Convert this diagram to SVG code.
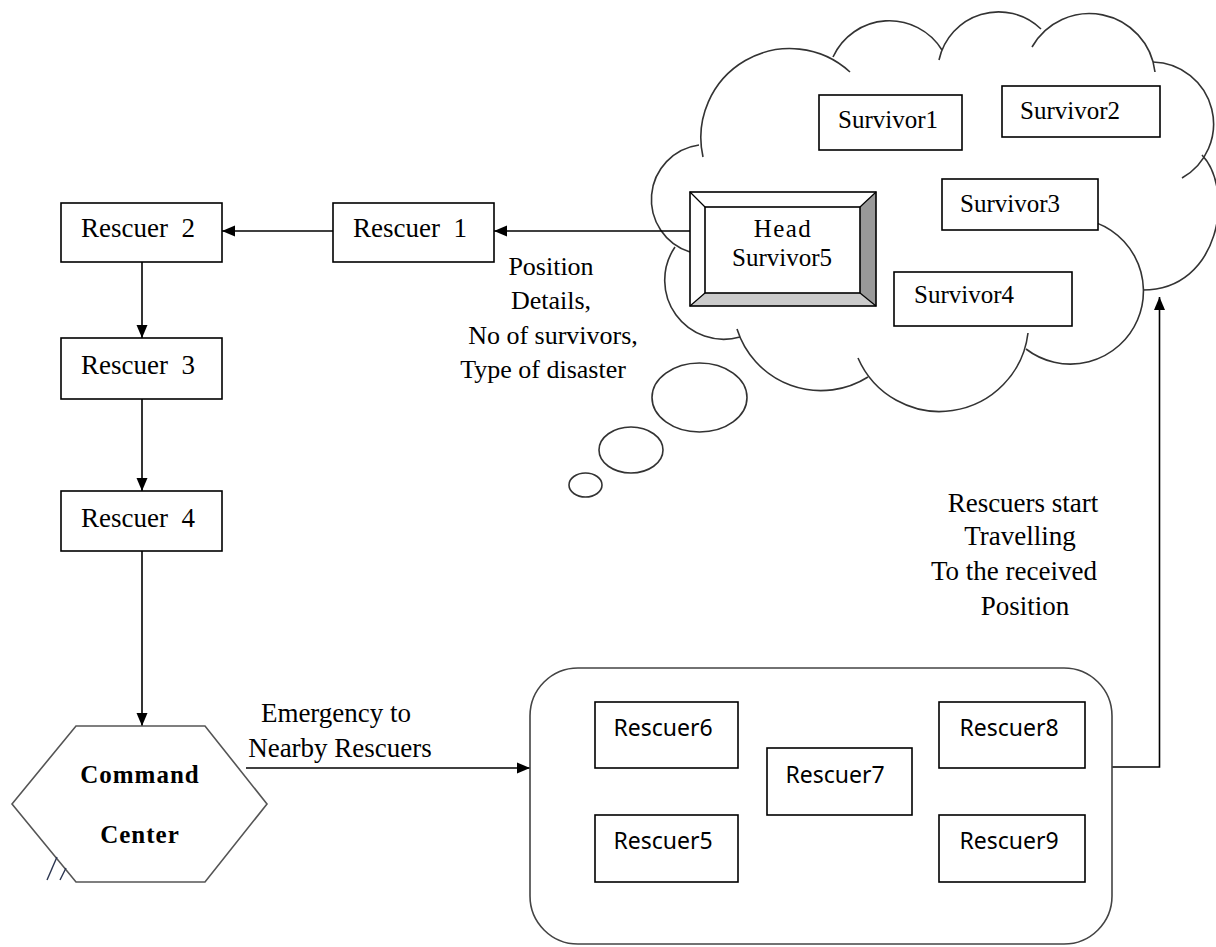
<svg xmlns="http://www.w3.org/2000/svg" width="1216" height="947" viewBox="0 0 1216 947">
<defs>
<marker id="ah" markerWidth="14" markerHeight="12" refX="13" refY="6" orient="auto" markerUnits="userSpaceOnUse"><path d="M0,0.5 L13,6 L0,11.5 z" fill="#000"/></marker>
<style>
.serif{font-family:"Liberation Serif","Times New Roman",serif;fill:#000}
.sans{font-family:"Noto Sans","Open Sans",sans-serif;fill:#000;font-size:23px}
.box{fill:#fff;stroke:#000;stroke-width:1.6}
.cloud{fill:none;stroke:#333;stroke-width:1.6}
.conn{fill:none;stroke:#000;stroke-width:1.6}
.lbl{font-size:27px}
.surv{font-size:25px}
.resc{font-size:27px}
</style>
</defs>
<rect width="1216" height="947" fill="#fff"/>

<g id="cloud">
<path class="cloud" d="M690,252 A55,55 0 0 1 699,145"/>
<path class="cloud" d="M703,157 A89,89 0 0 1 850,72"/>
<path class="cloud" d="M833,57 A62,62 0 0 1 942,50"/>
<path class="cloud" d="M939,60 A61,61 0 0 1 1041,29"/>
<path class="cloud" d="M1032,47 A66,66 0 0 1 1155,72"/>
<path class="cloud" d="M1153,62 A62,62 0 0 1 1182,178"/>
<path class="cloud" d="M1202,155 C1235,190 1220,290 1143,290"/>
<path class="cloud" d="M1082,219 A73,73 0 1 1 1026,349"/>
<path class="cloud" d="M1028,333 A89,89 0 0 1 858,358"/>
<path class="cloud" d="M868,377 A88,88 0 0 1 737,329"/>
<path class="cloud" d="M740,337 A59,59 0 0 1 675,247"/>
<ellipse class="cloud" cx="699.5" cy="397.5" rx="47.5" ry="34.5"/>
<ellipse class="cloud" cx="631" cy="450" rx="32" ry="23"/>
<ellipse class="cloud" cx="585.5" cy="485" rx="16.5" ry="12"/>
</g>

<g id="connectors">
<line class="conn" x1="690" y1="231" x2="494" y2="231" marker-end="url(#ah)"/>
<line class="conn" x1="333" y1="231" x2="222" y2="231" marker-end="url(#ah)"/>
<line class="conn" x1="142" y1="262" x2="142" y2="338" marker-end="url(#ah)"/>
<line class="conn" x1="142" y1="399" x2="142" y2="491" marker-end="url(#ah)" stroke="#555"/>
<line class="conn" x1="142" y1="551" x2="142" y2="726" marker-end="url(#ah)"/>
<line class="conn" x1="246" y1="768" x2="530" y2="768" marker-end="url(#ah)"/>
<path class="conn" d="M1112,767 H1159.5 V297" stroke="#444" marker-end="url(#ah)"/>
</g>

<g id="head-survivor5">
<rect x="690" y="192" width="186" height="114" fill="#fff"/>
<polygon points="860,207 876,192 876,306 860,293" fill="#999"/>
<polygon points="705,293 860,293 876,306 690,306" fill="#cbcbcb"/>
<rect x="690" y="192" width="186" height="114" fill="none" stroke="#000" stroke-width="1.6"/>
<rect x="705" y="207" width="155" height="86" fill="#fff" stroke="#000" stroke-width="1.6"/>
<g stroke="#000" stroke-width="1.2">
<line x1="690" y1="192" x2="705" y2="207"/>
<line x1="876" y1="192" x2="860" y2="207"/>
<line x1="690" y1="306" x2="705" y2="293"/>
<line x1="876" y1="306" x2="860" y2="293"/>
</g>
<text class="serif" x="783" y="237" font-size="25" letter-spacing="1.5" text-anchor="middle">Head</text>
<text class="serif" x="782" y="266" font-size="25" text-anchor="middle">Survivor5</text>
</g>

<g id="survivor1"><rect class="box" x="819" y="95" width="143" height="55"/><text class="serif surv" x="838" y="128">Survivor1</text></g>
<g id="survivor2"><rect class="box" x="1002" y="86" width="158" height="51"/><text class="serif surv" x="1020" y="119">Survivor2</text></g>
<g id="survivor3"><rect class="box" x="942" y="179" width="156" height="51"/><text class="serif surv" x="960" y="212">Survivor3</text></g>
<g id="survivor4"><rect class="box" x="894" y="272" width="178" height="54"/><text class="serif surv" x="914" y="303">Survivor4</text></g>

<g id="rescuer1"><rect class="box" x="333" y="203" width="161" height="59"/><text class="serif resc" x="353" y="237" xml:space="preserve">Rescuer  1</text></g>
<g id="rescuer2"><rect class="box" x="61" y="203" width="161" height="59"/><text class="serif resc" x="81" y="237" xml:space="preserve">Rescuer  2</text></g>
<g id="rescuer3"><rect class="box" x="61" y="338" width="161" height="61"/><text class="serif resc" x="81" y="374" xml:space="preserve">Rescuer  3</text></g>
<g id="rescuer4"><rect class="box" x="61" y="491" width="161" height="60"/><text class="serif resc" x="81" y="527" xml:space="preserve">Rescuer  4</text></g>

<g id="command-center">
<polygon points="12,804 76,726 205,726 267,804 205,882 76,882" fill="#fff" stroke="#555" stroke-width="1.6"/>
<text class="serif" x="140" y="783" font-size="25" font-weight="bold" letter-spacing="1" text-anchor="middle">Command</text>
<text class="serif" x="140" y="843" font-size="25" font-weight="bold" letter-spacing="1" text-anchor="middle">Center</text>
<g stroke="#2b3550" stroke-width="1.4"><line x1="57" y1="857" x2="47" y2="880"/><line x1="66" y1="868" x2="60" y2="880"/></g>
</g>

<g id="rescuer-group">
<rect x="530" y="668" width="582" height="276" rx="48" ry="48" fill="#fff" stroke="#444" stroke-width="1.6"/>
</g>
<g id="rescuer6"><rect class="box" x="595" y="702" width="143" height="66"/><text class="sans" x="663" y="736" text-anchor="middle">Rescuer6</text></g>
<g id="rescuer5"><rect class="box" x="595" y="815" width="143" height="67"/><text class="sans" x="663" y="849" text-anchor="middle">Rescuer5</text></g>
<g id="rescuer7"><rect class="box" x="767" y="748" width="145" height="67"/><text class="sans" x="835" y="783" text-anchor="middle">Rescuer7</text></g>
<g id="rescuer8"><rect class="box" x="939" y="702" width="146" height="66"/><text class="sans" x="1009" y="736" text-anchor="middle">Rescuer8</text></g>
<g id="rescuer9"><rect class="box" x="939" y="815" width="146" height="67"/><text class="sans" x="1009" y="849" text-anchor="middle">Rescuer9</text></g>

<g id="labels">
<g class="serif" font-size="26" text-anchor="middle">
<text x="551" y="275">Position</text>
<text x="551" y="309">Details,</text>
<text x="553" y="344">No of survivors,</text>
<text x="543" y="378">Type of disaster</text>
</g>
<g class="serif lbl" text-anchor="middle">
<text x="336" y="722">Emergency to</text>
<text x="340" y="757">Nearby Rescuers</text>
<text x="1023" y="512">Rescuers start</text>
<text x="1020" y="545">Travelling</text>
<text x="1014" y="580">To the received</text>
<text x="1025" y="615">Position</text>
</g>
</g>
</svg>
